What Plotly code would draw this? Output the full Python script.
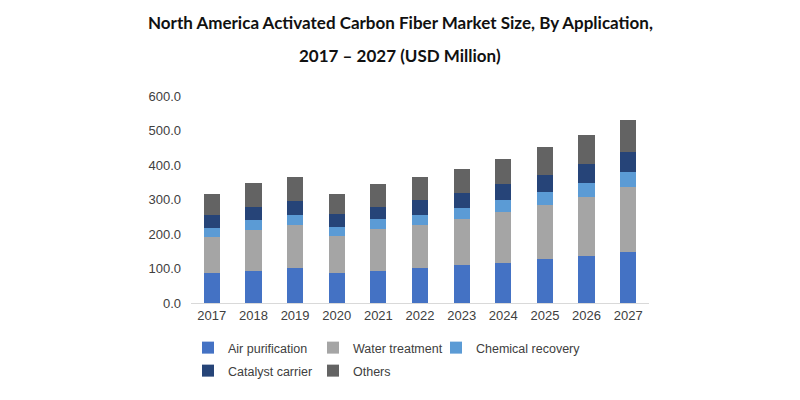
import plotly.graph_objects as go

years = ["2017", "2018", "2019", "2020", "2021", "2022", "2023", "2024", "2025", "2026", "2027"]
air_purification = [88, 94, 101, 88, 94, 101, 110, 117, 127, 136, 149]
water_treatment = [103, 117, 124, 107, 120, 126, 134, 146, 158, 172, 188]
chemical_recovery = [27, 29, 29, 26, 29, 29, 32, 35, 36, 40, 42]
catalyst_carrier = [36, 39, 42, 36, 36, 42, 42, 47, 49, 55, 60]
others = [61, 68, 68, 58, 65, 68, 71, 73, 81, 83, 90]

series = [
    ("Air purification", air_purification, "#4472C4", "legend"),
    ("Water treatment", water_treatment, "#A5A5A5", "legend2"),
    ("Chemical recovery", chemical_recovery, "#5B9BD5", "legend3"),
    ("Catalyst carrier", catalyst_carrier, "#264478", "legend4"),
    ("Others", others, "#636363", "legend5"),
]

fig = go.Figure()
for name, vals, color, leg in series:
    fig.add_trace(go.Bar(x=years, y=vals, name=name, marker_color=color,
                         marker_line_width=0, legend=leg))

# page has an 8px body margin, so the plot box is offset accordingly
L, T, W, H = 183, 88, 458, 207
bottom = T + H

legend_common = dict(
    orientation="h", xanchor="left", yanchor="middle", itemwidth=30,
    font=dict(family="Liberation Sans, Arial", size=12.5, color="#404040"),
    bgcolor="rgba(0,0,0,0)",
)
col_x = [180, 305, 428]
row_y = [340, 363]

fig.update_layout(
    barmode="stack",
    bargap=0.61,
    width=800, height=400,
    margin=dict(l=L, r=800 - L - W, t=T, b=400 - T - H, autoexpand=False),
    plot_bgcolor="white",
    paper_bgcolor="white",
    font=dict(family="Liberation Sans, Arial", size=13, color="#404040"),
    showlegend=True,
    legend=dict(legend_common, x=(col_x[0] - L) / W, y=(bottom - row_y[0]) / H),
    legend2=dict(legend_common, x=(col_x[1] - L) / W, y=(bottom - row_y[0]) / H),
    legend3=dict(legend_common, x=(col_x[2] - L) / W, y=(bottom - row_y[0]) / H),
    legend4=dict(legend_common, x=(col_x[0] - L) / W, y=(bottom - row_y[1]) / H),
    legend5=dict(legend_common, x=(col_x[1] - L) / W, y=(bottom - row_y[1]) / H),
)

fig.add_annotation(text="<b>North America Activated Carbon Fiber Market Size, By Application,</b>",
                   xref="paper", yref="paper", x=(392 - L) / W, y=(bottom - 14) / H,
                   xanchor="center", yanchor="middle", showarrow=False,
                   font=dict(family="Lato", size=17, color="#111111"))
fig.add_annotation(text="<b>2017 – 2027 (USD Million)</b>",
                   xref="paper", yref="paper", x=(392 - L) / W, y=(bottom - 47) / H,
                   xanchor="center", yanchor="middle", showarrow=False,
                   font=dict(family="Lato", size=17, color="#111111"))

fig.update_xaxes(showline=True, linecolor="#D9D9D9", linewidth=1, ticks="", showgrid=False)
fig.update_yaxes(range=[0, 600], dtick=100, tickformat=".1f", showgrid=False,
                 zeroline=False, showline=False, ticks="", ticklabelstandoff=9)

fig.write_html("out.html")
